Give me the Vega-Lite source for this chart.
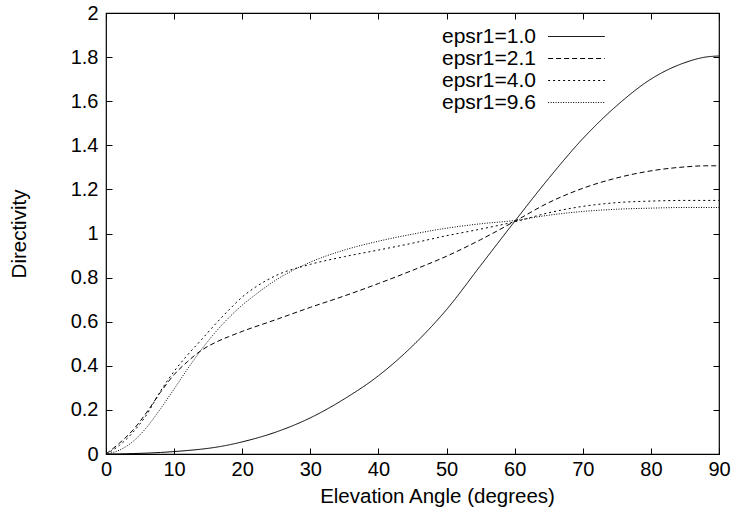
{
  "$schema": "https://vega.github.io/schema/vega-lite/v6.json",
  "width": 613,
  "height": 441,
  "autosize": "none",
  "padding": {"left": 106, "top": 13, "right": 14, "bottom": 67},
  "background": "white",
  "config": {
    "view": {"stroke": "black", "strokeWidth": 1.2},
    "font": "Liberation Sans",
    "axis": {
      "domain": false, "grid": false, "ticks": true, "tickColor": "black", "tickSize": -6, "tickWidth": 1,
      "labelFont": "Liberation Sans", "labelFontSize": 20, "labelColor": "black",
      "titleFont": "Liberation Sans", "titleFontSize": 20.5, "titleFontWeight": "normal", "titleColor": "black"
    },
    "legend": {"labelFont": "Liberation Sans", "labelFontSize": 21, "labelColor": "black"}
  },
  "datasets": {
    "curves": [
      {"angle": 0, "D": 0, "series": "epsr1=1.0"},
      {"angle": 2, "D": 0.0003, "series": "epsr1=1.0"},
      {"angle": 4, "D": 0.002, "series": "epsr1=1.0"},
      {"angle": 6, "D": 0.004, "series": "epsr1=1.0"},
      {"angle": 8, "D": 0.007, "series": "epsr1=1.0"},
      {"angle": 10, "D": 0.011, "series": "epsr1=1.0"},
      {"angle": 12, "D": 0.016, "series": "epsr1=1.0"},
      {"angle": 14, "D": 0.022, "series": "epsr1=1.0"},
      {"angle": 16, "D": 0.03, "series": "epsr1=1.0"},
      {"angle": 18, "D": 0.041, "series": "epsr1=1.0"},
      {"angle": 20, "D": 0.055, "series": "epsr1=1.0"},
      {"angle": 25, "D": 0.1, "series": "epsr1=1.0"},
      {"angle": 30, "D": 0.164, "series": "epsr1=1.0"},
      {"angle": 35, "D": 0.25, "series": "epsr1=1.0"},
      {"angle": 40, "D": 0.355, "series": "epsr1=1.0"},
      {"angle": 45, "D": 0.49, "series": "epsr1=1.0"},
      {"angle": 50, "D": 0.655, "series": "epsr1=1.0"},
      {"angle": 55, "D": 0.855, "series": "epsr1=1.0"},
      {"angle": 60, "D": 1.055, "series": "epsr1=1.0"},
      {"angle": 65, "D": 1.25, "series": "epsr1=1.0"},
      {"angle": 70, "D": 1.43, "series": "epsr1=1.0"},
      {"angle": 75, "D": 1.58, "series": "epsr1=1.0"},
      {"angle": 80, "D": 1.7, "series": "epsr1=1.0"},
      {"angle": 85, "D": 1.775, "series": "epsr1=1.0"},
      {"angle": 88, "D": 1.8, "series": "epsr1=1.0"},
      {"angle": 90, "D": 1.805, "series": "epsr1=1.0"},

      {"angle": 0, "D": 0, "series": "epsr1=2.1"},
      {"angle": 2, "D": 0.05, "series": "epsr1=2.1"},
      {"angle": 4, "D": 0.11, "series": "epsr1=2.1"},
      {"angle": 6, "D": 0.19, "series": "epsr1=2.1"},
      {"angle": 8, "D": 0.28, "series": "epsr1=2.1"},
      {"angle": 10, "D": 0.36, "series": "epsr1=2.1"},
      {"angle": 12, "D": 0.42, "series": "epsr1=2.1"},
      {"angle": 14, "D": 0.47, "series": "epsr1=2.1"},
      {"angle": 16, "D": 0.505, "series": "epsr1=2.1"},
      {"angle": 18, "D": 0.532, "series": "epsr1=2.1"},
      {"angle": 20, "D": 0.556, "series": "epsr1=2.1"},
      {"angle": 25, "D": 0.61, "series": "epsr1=2.1"},
      {"angle": 30, "D": 0.665, "series": "epsr1=2.1"},
      {"angle": 35, "D": 0.717, "series": "epsr1=2.1"},
      {"angle": 40, "D": 0.773, "series": "epsr1=2.1"},
      {"angle": 45, "D": 0.833, "series": "epsr1=2.1"},
      {"angle": 50, "D": 0.897, "series": "epsr1=2.1"},
      {"angle": 55, "D": 0.972, "series": "epsr1=2.1"},
      {"angle": 60, "D": 1.055, "series": "epsr1=2.1"},
      {"angle": 65, "D": 1.14, "series": "epsr1=2.1"},
      {"angle": 70, "D": 1.205, "series": "epsr1=2.1"},
      {"angle": 75, "D": 1.252, "series": "epsr1=2.1"},
      {"angle": 80, "D": 1.284, "series": "epsr1=2.1"},
      {"angle": 85, "D": 1.302, "series": "epsr1=2.1"},
      {"angle": 88, "D": 1.307, "series": "epsr1=2.1"},
      {"angle": 90, "D": 1.307, "series": "epsr1=2.1"},

      {"angle": 0, "D": 0, "series": "epsr1=4.0"},
      {"angle": 2, "D": 0.04, "series": "epsr1=4.0"},
      {"angle": 4, "D": 0.1, "series": "epsr1=4.0"},
      {"angle": 6, "D": 0.18, "series": "epsr1=4.0"},
      {"angle": 8, "D": 0.285, "series": "epsr1=4.0"},
      {"angle": 10, "D": 0.375, "series": "epsr1=4.0"},
      {"angle": 12, "D": 0.45, "series": "epsr1=4.0"},
      {"angle": 14, "D": 0.518, "series": "epsr1=4.0"},
      {"angle": 16, "D": 0.587, "series": "epsr1=4.0"},
      {"angle": 18, "D": 0.652, "series": "epsr1=4.0"},
      {"angle": 20, "D": 0.712, "series": "epsr1=4.0"},
      {"angle": 22, "D": 0.758, "series": "epsr1=4.0"},
      {"angle": 25, "D": 0.81, "series": "epsr1=4.0"},
      {"angle": 30, "D": 0.86, "series": "epsr1=4.0"},
      {"angle": 35, "D": 0.895, "series": "epsr1=4.0"},
      {"angle": 40, "D": 0.925, "series": "epsr1=4.0"},
      {"angle": 45, "D": 0.956, "series": "epsr1=4.0"},
      {"angle": 50, "D": 0.99, "series": "epsr1=4.0"},
      {"angle": 55, "D": 1.02, "series": "epsr1=4.0"},
      {"angle": 60, "D": 1.053, "series": "epsr1=4.0"},
      {"angle": 65, "D": 1.094, "series": "epsr1=4.0"},
      {"angle": 70, "D": 1.123, "series": "epsr1=4.0"},
      {"angle": 75, "D": 1.14, "series": "epsr1=4.0"},
      {"angle": 80, "D": 1.147, "series": "epsr1=4.0"},
      {"angle": 85, "D": 1.15, "series": "epsr1=4.0"},
      {"angle": 90, "D": 1.15, "series": "epsr1=4.0"},

      {"angle": 0, "D": 0, "series": "epsr1=9.6"},
      {"angle": 2, "D": 0.018, "series": "epsr1=9.6"},
      {"angle": 4, "D": 0.058, "series": "epsr1=9.6"},
      {"angle": 6, "D": 0.122, "series": "epsr1=9.6"},
      {"angle": 8, "D": 0.205, "series": "epsr1=9.6"},
      {"angle": 10, "D": 0.295, "series": "epsr1=9.6"},
      {"angle": 12, "D": 0.387, "series": "epsr1=9.6"},
      {"angle": 14, "D": 0.473, "series": "epsr1=9.6"},
      {"angle": 16, "D": 0.55, "series": "epsr1=9.6"},
      {"angle": 18, "D": 0.617, "series": "epsr1=9.6"},
      {"angle": 20, "D": 0.675, "series": "epsr1=9.6"},
      {"angle": 22, "D": 0.724, "series": "epsr1=9.6"},
      {"angle": 25, "D": 0.79, "series": "epsr1=9.6"},
      {"angle": 30, "D": 0.87, "series": "epsr1=9.6"},
      {"angle": 35, "D": 0.925, "series": "epsr1=9.6"},
      {"angle": 40, "D": 0.965, "series": "epsr1=9.6"},
      {"angle": 45, "D": 0.997, "series": "epsr1=9.6"},
      {"angle": 50, "D": 1.024, "series": "epsr1=9.6"},
      {"angle": 55, "D": 1.044, "series": "epsr1=9.6"},
      {"angle": 60, "D": 1.059, "series": "epsr1=9.6"},
      {"angle": 65, "D": 1.083, "series": "epsr1=9.6"},
      {"angle": 70, "D": 1.1, "series": "epsr1=9.6"},
      {"angle": 75, "D": 1.11, "series": "epsr1=9.6"},
      {"angle": 80, "D": 1.115, "series": "epsr1=9.6"},
      {"angle": 85, "D": 1.118, "series": "epsr1=9.6"},
      {"angle": 90, "D": 1.118, "series": "epsr1=9.6"}
    ]
  },
  "data": {"name": "curves"},
  "layer": [
    {
      "mark": {"type": "line", "interpolate": "monotone", "strokeWidth": 1, "color": "black"},
      "encoding": {
        "x": {"field": "angle", "type": "quantitative", "scale": {"domain": [0, 90], "nice": false},
              "axis": {"orient": "bottom", "title": "Elevation Angle (degrees)", "values": [0, 10, 20, 30, 40, 50, 60, 70, 80, 90], "labelPadding": 11, "titlePadding": 7, "titleX": 331, "labelFlush": false}},
        "y": {"field": "D", "type": "quantitative", "scale": {"domain": [0, 2], "nice": false},
              "axis": {"orient": "left", "title": "Directivity", "values": [0, 0.2, 0.4, 0.6, 0.8, 1, 1.2, 1.4, 1.6, 1.8, 2], "format": "~g", "labelPadding": 14, "titlePadding": 41, "labelFlush": false}},
        "strokeDash": {"field": "series", "type": "nominal",
          "scale": {"domain": ["epsr1=1.0", "epsr1=2.1", "epsr1=4.0", "epsr1=9.6"], "range": [[1, 0], [5, 3], [2, 3], [1, 1.5]]},
          "legend": {"orient": "none", "legendX": 460, "legendY": 13, "title": null, "padding": 0,
                     "symbolType": "M-4.9,0H4.9", "symbolSize": 134, "symbolStrokeWidth": 1, "symbolStrokeColor": "black", "symbolFillColor": "transparent",
                     "labelAlign": "right", "labelOffset": -51, "rowPadding": 0, "labelLimit": 0}}
      }
    },
    {
      "mark": {"type": "line", "strokeOpacity": 0},
      "encoding": {
        "x": {"field": "angle", "type": "quantitative", "axis": {"orient": "top", "title": null, "labels": false, "values": [0, 10, 20, 30, 40, 50, 60, 70, 80, 90]}},
        "y": {"field": "D", "type": "quantitative", "axis": {"orient": "right", "title": null, "labels": false, "values": [0, 0.2, 0.4, 0.6, 0.8, 1, 1.2, 1.4, 1.6, 1.8, 2]}},
        "detail": {"field": "series"}
      }
    }
  ],
  "resolve": {"axis": {"x": "independent", "y": "independent"}}
}
